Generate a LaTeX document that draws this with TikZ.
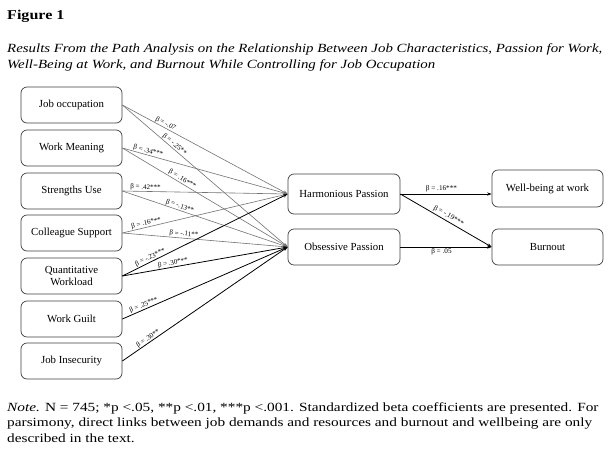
\documentclass[tikz,border=0pt]{standalone}
\usepackage{fontspec}
\setmainfont{Liberation Serif}
\usetikzlibrary{arrows.meta}
\newcommand{\wcap}[1]{\scalebox{1.19}[1]{#1}}
\newcommand{\wnote}[1]{\scalebox{1.225}[1]{#1}}
\begin{document}
\begin{tikzpicture}[x=1pt,y=-1pt,
  box/.style={draw=black!75, rounded corners=6pt, line width=0.7pt, align=center,
    font=\fontsize{10.8}{12}\selectfont, inner sep=0pt},
  lbox/.style={box, minimum width=101pt, minimum height=36pt},
  pbox/.style={box, minimum width=112pt, minimum height=38pt},
  obox/.style={box, minimum width=111pt, minimum height=37pt},
  tip/.style={-{Stealth[length=4.5pt,width=3.2pt]}},
  gl/.style={draw=black!55, line width=0.6pt, tip},
  bl/.style={draw=black, line width=0.8pt, tip},
  lab/.style={font=\fontsize{7}{8}\selectfont, sloped, above, inner sep=0.5pt},
  rlab/.style={font=\fontsize{7.2}{8}\selectfont, inner sep=1.5pt},
  txt/.style={anchor=base west, inner sep=0pt, font=\fontsize{12.5}{15}\selectfont}
]
\useasboundingbox (0,0) rectangle (614,464);
\fill[white] (0,0) rectangle (614,464);

\node[txt, font=\fontsize{13.5}{16}\selectfont\bfseries] (title) at (7,19) {\wcap{Figure 1}};
\node[txt, font=\fontsize{12.5}{15}\selectfont\itshape] (cap1) at (7,52) {\wcap{Results From the Path Analysis on the Relationship Between Job Characteristics, Passion for Work,}};
\node[txt, font=\fontsize{12.5}{15}\selectfont\itshape] (cap2) at (7,68) {\wcap{Well-Being at Work, and Burnout While Controlling for Job Occupation}};

\node[lbox] (jo) at (71.5,105) {Job occupation};
\node[lbox] (wm) at (71.5,148) {Work Meaning};
\node[lbox] (su) at (71.5,191) {Strengths Use};
\node[lbox] (cs) at (71.5,233) {Colleague Support};
\node[lbox] (qw) at (71.5,276) {Quantitative\\Workload};
\node[lbox] (wg) at (71.5,319) {Work Guilt};
\node[lbox] (ji) at (71.5,361) {Job Insecurity};

\node[pbox, minimum height=40pt] (hp) at (344,194) {Harmonious Passion};
\node[pbox, minimum height=36pt] (op) at (344,247) {Obsessive Passion};
\node[obox] (wb) at (547.5,188.5) {Well-being at work};
\node[obox, minimum height=36pt] (bo) at (547.5,247) {Burnout};

\draw[gl] (jo.east) -- node[lab, pos=.25] {β = -.07} (hp.west);
\draw[gl] (jo.east) -- node[lab, pos=.30] {β = -.25**} (op.west);
\draw[gl] (wm.east) -- node[lab, pos=.15] {β = .34***} (hp.west);
\draw[gl] (wm.east) -- node[lab, pos=.35] {β = .16***} (op.west);
\draw[gl] (su.east) -- node[lab, pos=.14] {β = .42***} (hp.west);
\draw[gl] (su.east) -- node[lab, pos=.34] {β = -.13**} (op.west);
\draw[gl] (cs.east) -- node[lab, pos=.15] {β = .16***} (hp.west);
\draw[gl] (cs.east) -- node[lab, pos=.37] {β = -.11**} (op.west);
\draw[bl] (qw.east) -- node[lab, pos=.18] {β = -.23***} (hp.west);
\draw[bl] (qw.east) -- node[lab, pos=.31] {β = .30***} (op.west);
\draw[bl] (wg.east) -- node[lab, pos=.14] {β = .25***} (op.west);
\draw[bl] (ji.east) -- node[lab, pos=.17] {β = .30**} (op.west);

\draw[bl] (hp.east) -- node[rlab, above, pos=.45] {β = .16***} (wb.west |- hp.east);
\draw[bl] (hp.east) -- node[rlab, sloped, above, pos=.5] {β = -.19***} (bo.west);
\draw[bl] (op.east) -- node[rlab, below, pos=.45] {β = .05} (bo.west);

\node[txt] (n1) at (7,411) {\wnote{\textit{Note.} N = 745; *p <.05, **p <.01, ***p <.001. Standardized beta coefficients are presented. For}};
\node[txt] (n2) at (7,426) {\wnote{parsimony, direct links between job demands and resources and burnout and wellbeing are only}};
\node[txt] (n3) at (7,442) {\wnote{described in the text.}};
\end{tikzpicture}
\end{document}
